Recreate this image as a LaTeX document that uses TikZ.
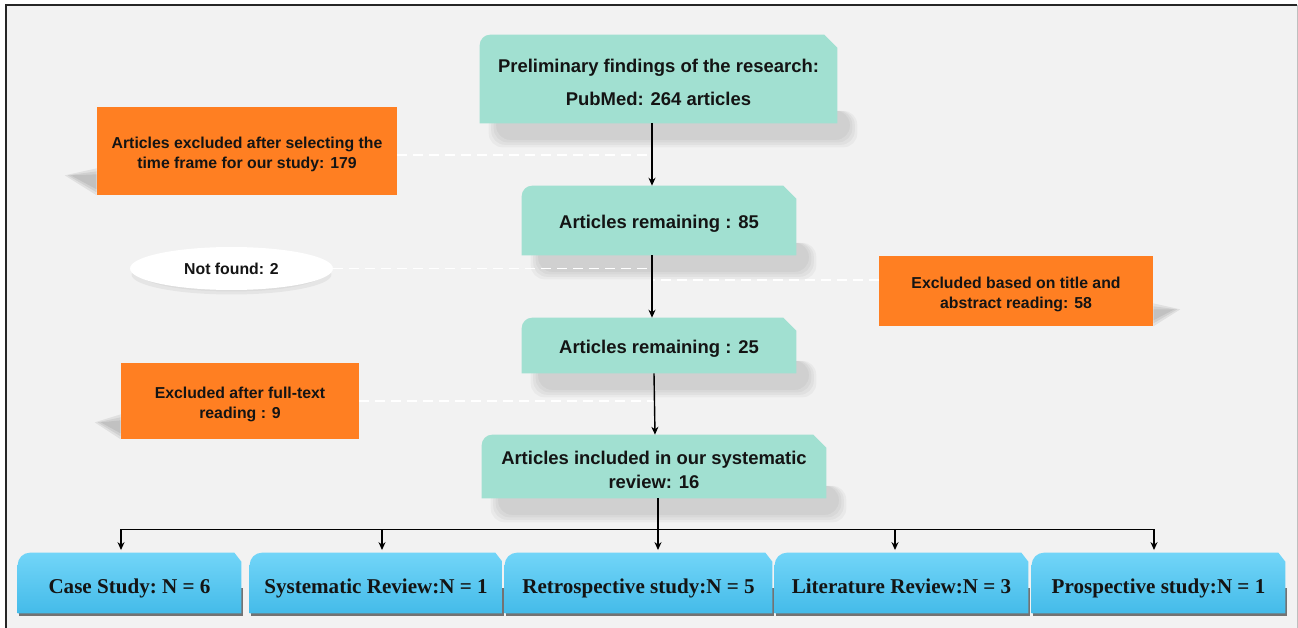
\documentclass[tikz,border=0pt]{standalone}
\usepackage{fontspec}
\setmainfont{Liberation Sans}
\newfontfamily\timesfont{Liberation Serif}
\usepackage{tikz}
\usetikzlibrary{
arrows.meta,
positioning,
shapes.geometric,
backgrounds,
calc
}
\definecolor{prgreen}{HTML}{A1E0D1}
\definecolor{prorange}{HTML}{FF7F22}
\definecolor{prbluetop}{HTML}{72D5F8}
\definecolor{prbluebot}{HTML}{44BBE9}
\definecolor{prback}{HTML}{F2F2F2}
\definecolor{prtext}{HTML}{141414}
\newcommand{\lift}[1]{\rule{0pt}{#1}}

\begin{document}
\begin{tikzpicture}[
  x=0.02cm, y=-0.02cm,
  stage/.style={inner sep=0pt, align=center, text=prtext, font=\fontsize{10.5}{13.6}\selectfont\bfseries},
  drop/.style={inner sep=0pt, align=center, text=prtext, font=\fontsize{9}{11.3}\selectfont\bfseries},
  kind/.style={inner sep=0pt, minimum height=1.2cm, text height=12pt, text depth=0pt, align=center, text=prtext, font=\timesfont\fontsize{12}{14}\selectfont\bfseries},
  flow/.style={-{Stealth[length=4.5pt, width=4pt]}, line width=0.8pt},
  skip/.style={white, line width=0.9pt, dash pattern=on 0.2cm off 0.12cm}
]
  \useasboundingbox (0,0) rectangle (1298,628);

  % Main stages
  \node[stage, minimum width=7.14cm, minimum height=1.76cm] (top) at (658.5,79) {\lift{11.8pt}Preliminary findings of the research:\\[5.2pt] PubMed: 264 articles};
  \node[stage, minimum width=5.48cm, minimum height=1.38cm] (rem85) at (659,220.5) {\lift{11.8pt}Articles remaining : 85};
  \node[stage, minimum width=5.48cm, minimum height=1.10cm] (rem25) at (659,345.5) {\lift{11.8pt}Articles remaining : 25};
  \node[stage, minimum width=6.88cm, minimum height=1.26cm] (incl) at (654,466.5) {\lift{11.8pt}Articles included in our systematic\\review: 16};
  \coordinate (spine) at (652,123);

  % Exclusions
  \node[drop, fill=prorange, minimum width=6cm, minimum height=1.76cm] (ex1) at (247,151) {\lift{10pt}Articles excluded after selecting the\\time frame for our study: 179};
  \node[ellipse, fill=white, inner sep=0pt, minimum width=4.06cm, minimum height=0.86cm, text=prtext, font=\fontsize{9}{11}\selectfont\bfseries] (nf) at (231.5,268.5) {Not found: 2};
  \node[drop, fill=prorange, minimum width=5.48cm, minimum height=1.40cm] (ex2) at (1016,291) {\lift{10pt}Excluded based on title and\\abstract reading: 58};
  \node[drop, fill=prorange, minimum width=4.76cm, minimum height=1.52cm] (ex3) at (240,401) {\lift{10pt}Excluded after full-text\\reading : 9};

  % Study types
  \node[kind, minimum width=4.46cm] (case) at (129.5,583) {Case Study:\ N = 6};
  \node[kind, minimum width=5.04cm] (sysrev) at (376,583) {Systematic Review:N = 1};
  \node[kind, minimum width=5.34cm] (retro) at (638.5,583) {Retrospective study:N = 5};
  \node[kind, minimum width=5.06cm] (lit) at (901.5,583) {Literature Review:N = 3};
  \node[kind, minimum width=5.06cm] (prosp) at (1158.5,583) {Prospective study:N = 1};

  \begin{scope}[on background layer]
    \fill[white] (0,0) rectangle (1298,628);
    \fill[prback] (6,5) rectangle (1297,628);
    \draw[black!85, line width=0.8pt] (6,628) -- (6,5) -- (1297,5);
    \draw[black!25] (1297,5) -- (1297,628);

    % Shadows (soft, in layers)
    \foreach \n in {top,rem85,rem25,incl}
      \foreach \s in {0,0.05,0.1,0.15}
        \fill[black, opacity=.035, rounded corners=8pt] ([shift={(0.18cm+\s cm,0.25cm)}]\n.south west) rectangle ([shift={(0.4cm-\s cm,-0.48cm+\s cm)}]\n.south east);
    \foreach \s in {0,0.06,0.12}{
      \fill[black, opacity=.07] ([yshift=0.54cm-\s cm]ex1.south west) -- ([shift={(-0.64cm+\s cm,0.4cm)}]ex1.south west) -- ([yshift=\s cm]ex1.south west) -- cycle;
      \fill[black, opacity=.07] ([yshift=0.46cm-\s cm]ex2.south east) -- ([shift={(0.54cm-\s cm,0.34cm)}]ex2.south east) -- ([yshift=\s cm]ex2.south east) -- cycle;
      \fill[black, opacity=.07] ([yshift=0.5cm-\s cm]ex3.south west) -- ([shift={(-0.52cm+\s cm,0.34cm)}]ex3.south west) -- ([yshift=\s cm]ex3.south west) -- cycle;
    }
    \fill[black, opacity=.05] ([yshift=-0.12cm]nf.center) ellipse [x radius=2cm, y radius=0.4cm];
    \fill[black, opacity=.04] ([yshift=-0.12cm]nf.center) ellipse [x radius=1.8cm, y radius=0.34cm];

    % Box outlines
    \foreach \n in {top,rem85,rem25,incl}
      \fill[prgreen] (\n.south west) [rounded corners=6pt] -- (\n.north west) [sharp corners] -- ([xshift=-0.26cm]\n.north east) -- ([yshift=-0.26cm]\n.north east) -- (\n.south east) -- cycle;
    \foreach \n in {case,sysrev,retro,lit,prosp}{
      \fill[black!55] ([shift={(1pt,-1.6pt)}]\n.south west) rectangle ([shift={(1pt,0.5cm)}]\n.south east);
      \shade[top color=prbluetop, bottom color=prbluebot] (\n.south west) [rounded corners=7pt] -- (\n.north west) [sharp corners] -- ([xshift=-0.14cm]\n.north east) -- ([yshift=-0.18cm]\n.north east) -- (\n.south east) -- cycle;
    }
  \end{scope}

  % Dashed exclusion links
  \draw[skip] ([yshift=-0.08cm]ex1.east) -- ([yshift=-0.08cm]ex1.east -| spine);
  \draw[skip] (nf.east) -- (nf.east -| spine);
  \draw[skip] ([yshift=0.22cm]ex2.west) -- ([yshift=0.22cm]ex2.west -| spine);
  \draw[skip] (ex3.east) -- ([xshift=0.04cm]ex3.east -| spine);

  % Flow
  \draw[flow] (spine) -- (spine |- rem85.north);
  \draw[flow] (spine |- rem85.south) -- (spine |- rem25.north);
  \draw[flow] ([xshift=0.04cm]spine |- rem25.south) -- ([xshift=0.06cm]spine |- incl.north);

  % Split to study types
  \draw[line width=0.8pt] ([xshift=0.08cm]incl.south) -- ++(0,31) coordinate (bus);
  \draw[line width=0.8pt] ([xshift=-0.17cm]case.north |- bus) -- ([xshift=-0.09cm]prosp.north |- bus);
  \draw[flow, shorten >=1.5pt] ([xshift=-0.17cm]case.north |- bus) -- ([xshift=-0.17cm]case.north);
  \draw[flow, shorten >=1.5pt] ([xshift=0.12cm]sysrev.north |- bus) -- ([xshift=0.12cm]sysrev.north);
  \draw[flow, shorten >=1.5pt] ([xshift=-0.13cm]lit.north |- bus) -- ([xshift=-0.13cm]lit.north);
  \draw[flow, shorten >=1.5pt] ([xshift=-0.09cm]prosp.north |- bus) -- ([xshift=-0.09cm]prosp.north);
  \draw[flow, shorten >=1.5pt] (bus) -- (bus |- retro.north);

\end{tikzpicture}
\end{document}
